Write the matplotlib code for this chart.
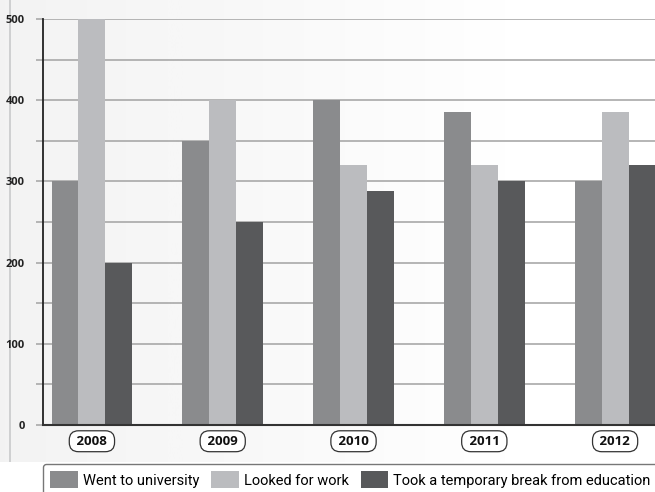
import numpy as np
import matplotlib.pyplot as plt
from matplotlib.patches import Patch

plt.rcParams['font.family'] = ['Open Sans', 'DejaVu Sans']

# values
years = ['2008', '2009', '2010', '2011', '2012']
university = [300, 350, 400, 385, 300]
work = [500, 400, 320, 320, 385]
break_edu = [200, 250, 288, 300, 320]
labels = ['Went to university', 'Looked for work', 'Took a temporary break from education']
colors = ['#8a8b8d', '#bbbcbf', '#58595b']

W, H = 655, 492
fig = plt.figure(figsize=(W / 100, H / 100), dpi=100)

# background gradient panel
bg = fig.add_axes([0, 1 - 462 / H, 1, 462 / H], zorder=0)
grad = np.linspace(0, 1, 256).reshape(1, -1)
bg.imshow(grad, aspect='auto', cmap='Greys_r', vmin=-7, vmax=0.8,
          extent=[0, 1, 0, 1])
bg.axvline(0.016, color='#c8c9cb', lw=1.2)
bg.set_axis_off()

ax = fig.add_axes([43 / W, 1 - 425 / H, 1 - 43 / W, 406 / H], zorder=1)
ax.patch.set_alpha(0)

x = np.arange(len(years))
bw = 0.206
for k, (vals, c) in enumerate(zip([university, work, break_edu], colors)):
    ax.bar(x + (k - 1) * bw, vals, width=bw, color=c, zorder=3)

ax.set_ylim(0, 500)
ax.set_xlim(-0.374, 4.305)
ax.set_yticks(np.arange(0, 501, 50))
ax.set_yticklabels([str(v) if v % 100 == 0 else '' for v in range(0, 501, 50)],
                   fontsize=8, fontweight='bold', color='#222222')
ax.tick_params(axis='y', length=5, color='#a9a9a9', width=1.2, pad=8)
ax.set_xticks([])
ax.grid(axis='y', color='#a9a9a9', lw=1.2, zorder=1)
for s in ['top', 'right']:
    ax.spines[s].set_visible(False)
ax.spines['left'].set_color('#222222')
ax.spines['left'].set_linewidth(1.3)
ax.spines['bottom'].set_color('#333333')
ax.spines['bottom'].set_linewidth(1.5)
ax.spines['bottom'].set_zorder(4)

for xi, yr in zip(x, years):
    ax.text(xi, -0.04, ' ' + yr + ' ', transform=ax.get_xaxis_transform(), ha='center', va='center',
            fontsize=9.5, fontweight='bold', color='#111111',
            bbox=dict(boxstyle='round,pad=0.3,rounding_size=0.7', fc='white', ec='#333333', lw=0.9))

handles = [Patch(facecolor=c, edgecolor='none') for c in colors]
fig.legend(handles, labels, loc='upper left', bbox_to_anchor=(43 / W, 1 - 464 / H),
           ncol=3, frameon=True, fancybox=True, edgecolor='#555555',
           handlelength=1.9, handleheight=1.4, columnspacing=0.8, handletextpad=0.35,
           borderpad=0.5, borderaxespad=0, prop={'family': 'Roboto', 'size': 10.5})

fig.savefig('out.png', dpi=100)
